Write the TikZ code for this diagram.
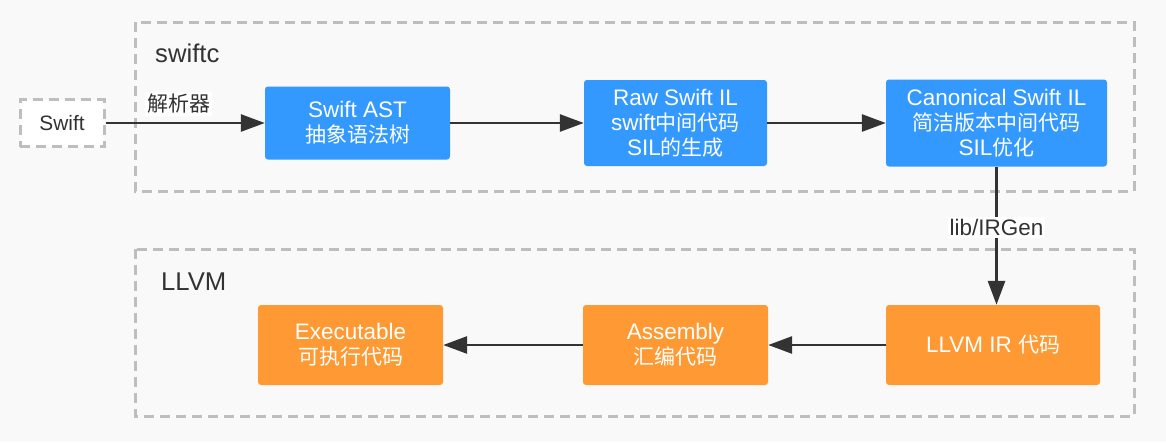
\documentclass[tikz,border=0pt]{standalone}
\usepackage{fontspec}
\setmainfont{Liberation Sans}[Scale=1.07]
\newfontfamily\cjk{Noto Sans CJK SC}
\usetikzlibrary{arrows.meta}
\definecolor{bgcol}{HTML}{F9F9F9}
\definecolor{framecol}{HTML}{BEBEBE}
\definecolor{bluebox}{HTML}{3399FF}
\definecolor{orangebox}{HTML}{FF9933}
\definecolor{inkcol}{HTML}{333333}

\begin{document}
\begin{tikzpicture}[x=1pt,y=-1pt,
		frame/.style={draw=framecol,line width=3pt,dash pattern=on 10pt off 6pt},
		stage/.style={rounded corners=3pt,text=white,align=center,inner sep=0pt,font=\fontsize{21}{25}\selectfont},
		swiftstage/.style={stage,fill=bluebox},
		llvmstage/.style={stage,fill=orangebox},
		arr/.style={draw=inkcol,line width=2.8pt,-{Triangle[length=24pt,width=17pt]}},
		lbl/.style={fill=white,text=inkcol,inner sep=2pt,font=\fontsize{21}{25}\selectfont},
		grouplbl/.style={anchor=west,text=inkcol,inner sep=0pt,font=\fontsize{24}{28}\selectfont}]
		\fill[bgcol] (0,0) rectangle (1166,442);
		\useasboundingbox (0,0) rectangle (1166,442);
		\draw[frame] (135,22) rectangle (1134,191);
		\draw[frame] (135,249) rectangle (1134,416);
		\node[grouplbl] (swiftc) at (155,53) {swiftc};
		\node[grouplbl] (llvm) at (161,282) {LLVM};
		\node[frame,fill=white,text=inkcol,minimum width=84pt,minimum height=47pt,inner sep=0pt,font=\fontsize{19.5}{23}\selectfont] (swift) at (62,123) {Swift};
		\node[swiftstage,minimum width=185pt,minimum height=73pt] (ast) at (357.5,123) {Swift AST\\{\cjk 抽象语法树}};
		\node[swiftstage,minimum width=183pt,minimum height=86pt] (raw) at (675.5,123) {Raw Swift IL\\swift{\cjk 中间代码}\\SIL{\cjk 的生成}};
		\node[swiftstage,minimum width=221pt,minimum height=87pt] (canon) at (996.5,123) {Canonical Swift IL\\{\cjk 简洁版本中间代码}\\SIL{\cjk 优化}};
		\node[llvmstage,minimum width=214pt,minimum height=80pt] (ir) at (993,345) {LLVM IR {\cjk 代码}};
		\node[llvmstage,minimum width=185pt,minimum height=80pt] (asm) at (675.5,345) {Assembly\\{\cjk 汇编代码}};
		\node[llvmstage,minimum width=185pt,minimum height=80pt] (exe) at (350.5,345) {Executable\\{\cjk 可执行代码}};
		\draw[arr] (swift) -- node[lbl,pos=0.46,yshift=19pt] {\cjk 解析器} (ast);
		\draw[arr] (ast) -- (raw);
		\draw[arr] (raw) -- (canon);
		\draw[arr] (canon.south) -- node[lbl,pos=0.44] {lib/IRGen} (canon.south |- ir.north);
		\draw[arr] (ir) -- (asm);
		\draw[arr] (asm) -- (exe);
	\end{tikzpicture}
\end{document}
